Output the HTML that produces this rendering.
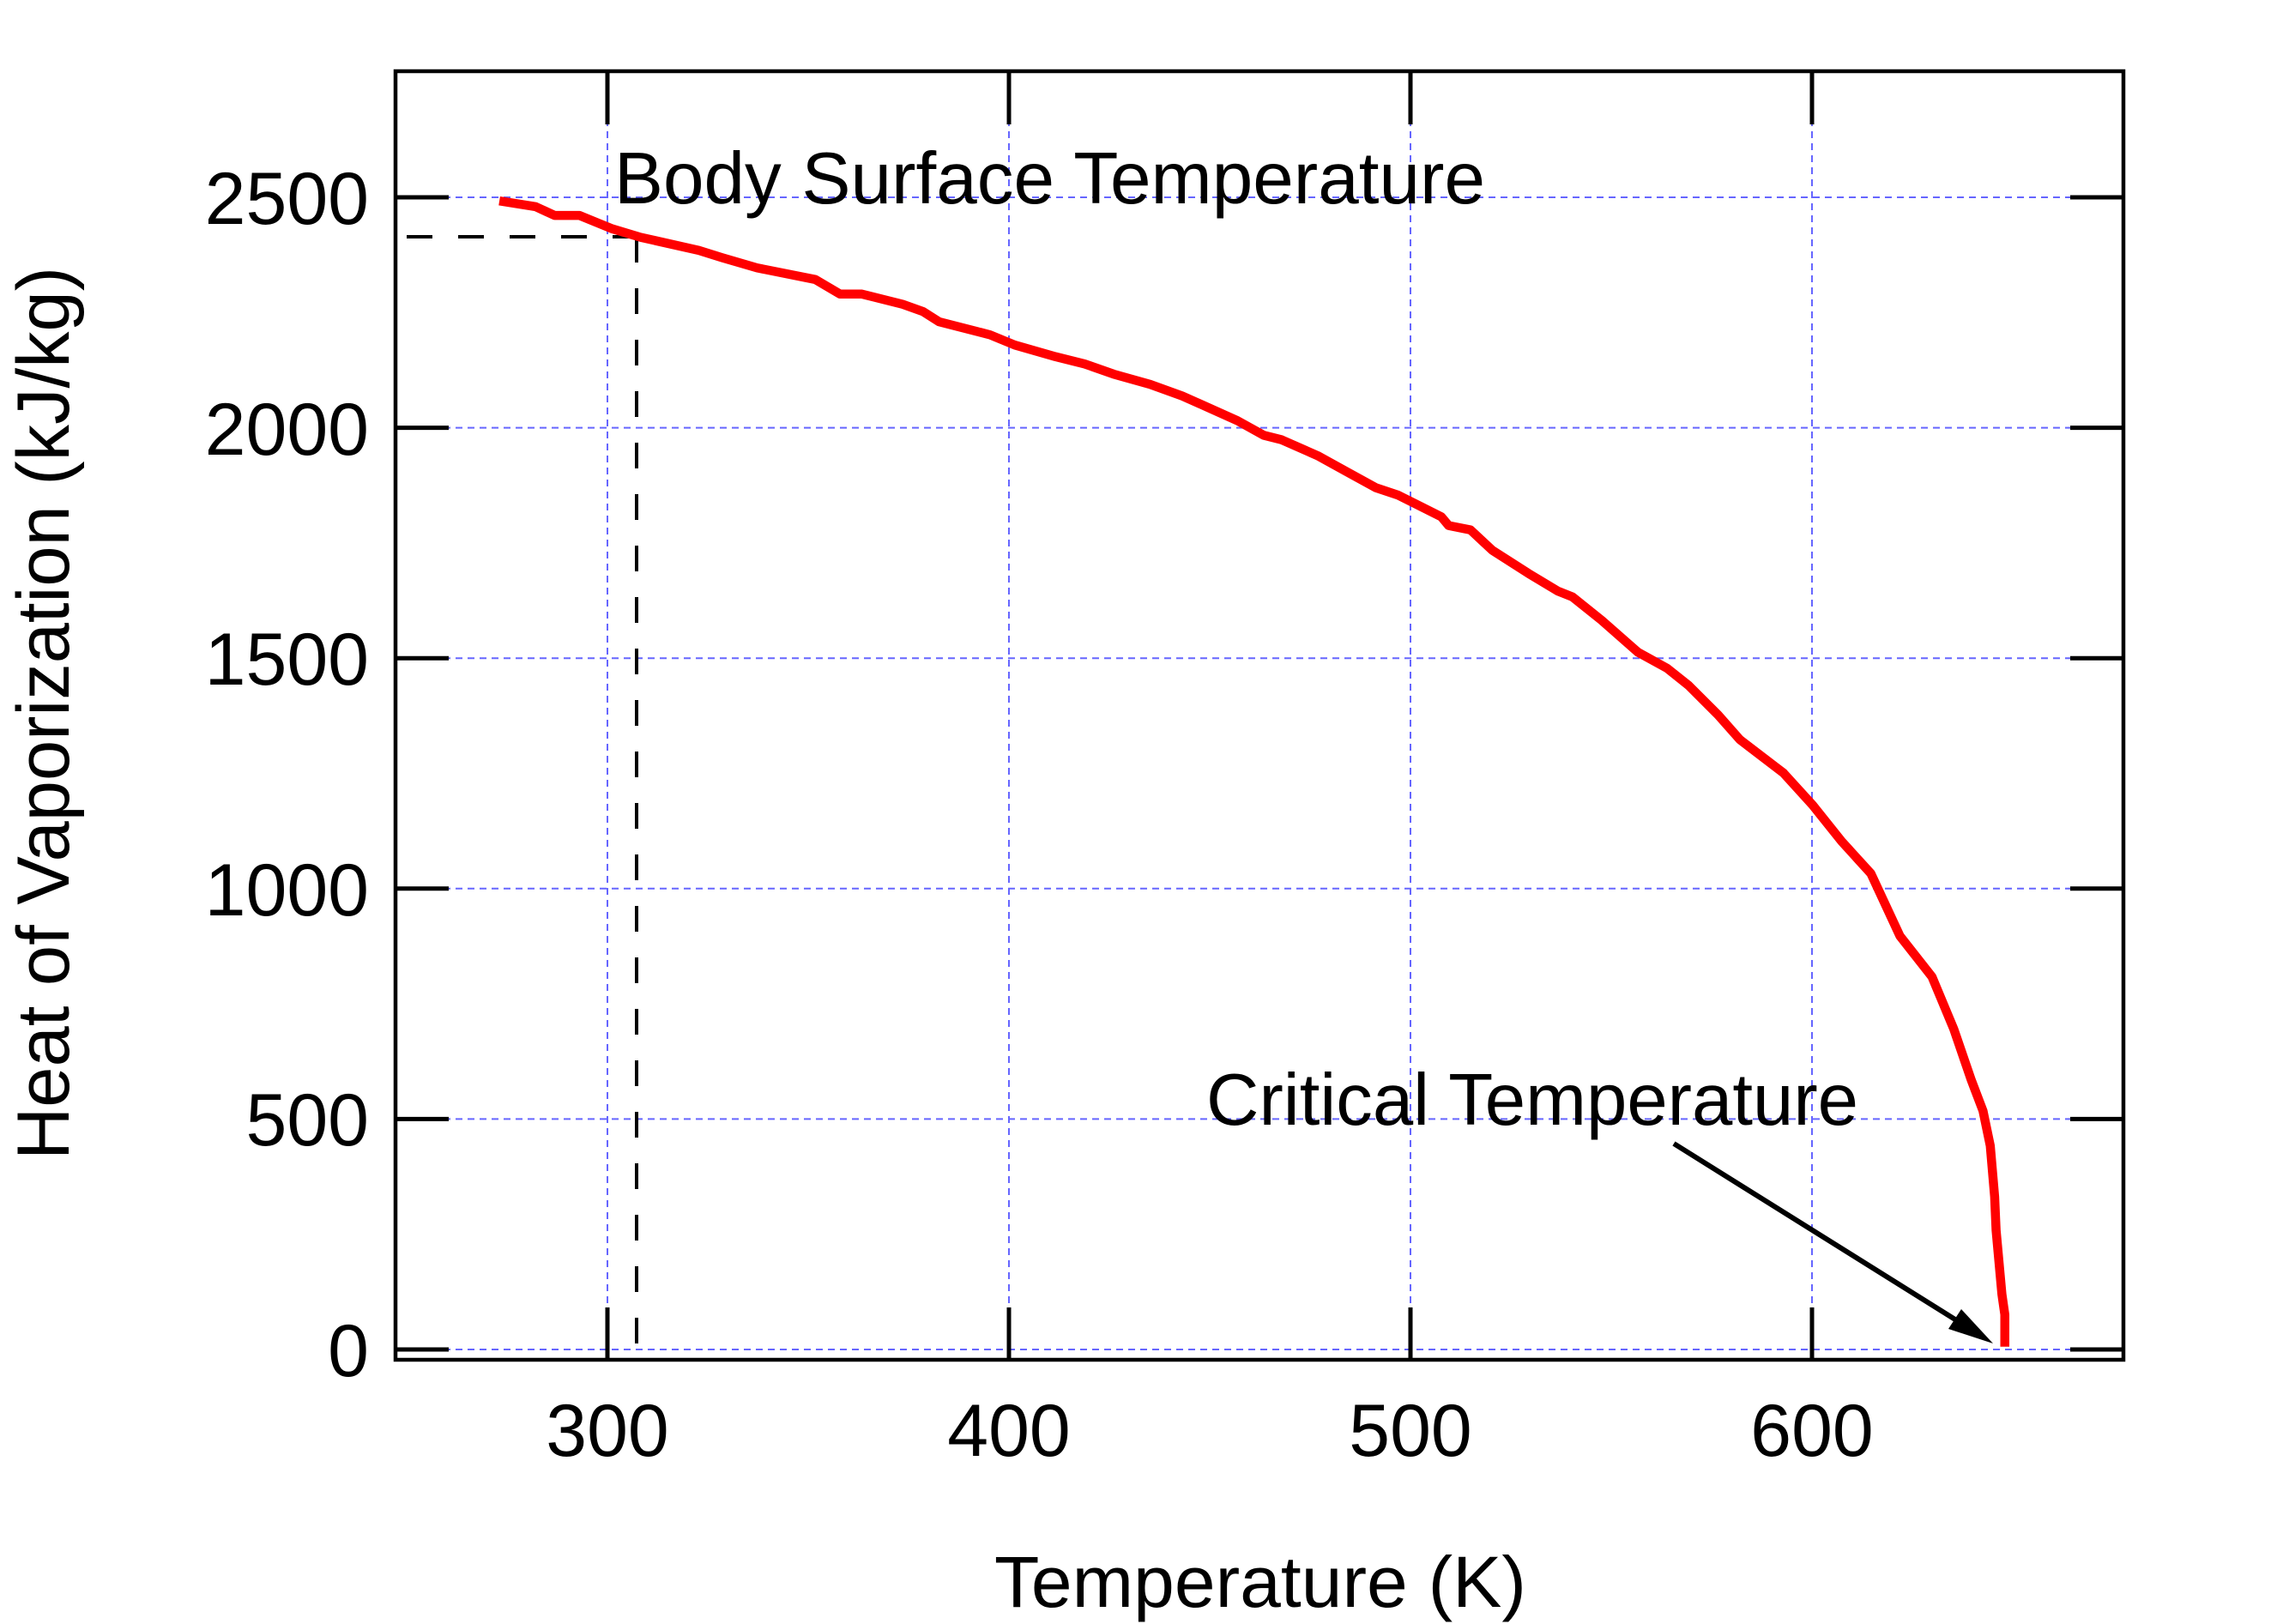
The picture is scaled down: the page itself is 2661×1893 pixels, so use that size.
<!DOCTYPE html>
<html><head><meta charset="utf-8"><style>
html,body{margin:0;padding:0;background:#fff;}
svg{display:block;}
text{font-family:"Liberation Sans",Arial,sans-serif;fill:#000;}
</style></head><body>
<svg width="2661" height="1893" viewBox="0 0 2661 1893" xmlns="http://www.w3.org/2000/svg">
<rect width="2661" height="1893" fill="#fff"/>
<!-- grid -->
<g stroke="#6666ff" stroke-width="2" stroke-dasharray="8,6">
<line x1="708" y1="83" x2="708" y2="1585"/>
<line x1="1176" y1="83" x2="1176" y2="1585"/>
<line x1="1644" y1="83" x2="1644" y2="1585"/>
<line x1="2112" y1="83" x2="2112" y2="1585"/>
<line x1="461" y1="1573" x2="2475" y2="1573"/>
<line x1="461" y1="1304.4" x2="2475" y2="1304.4"/>
<line x1="461" y1="1035.8" x2="2475" y2="1035.8"/>
<line x1="461" y1="767.2" x2="2475" y2="767.2"/>
<line x1="461" y1="498.6" x2="2475" y2="498.6"/>
<line x1="461" y1="230" x2="2475" y2="230"/>
</g>
<!-- ticks -->
<g stroke="#000" stroke-width="5">
<line x1="708" y1="83" x2="708" y2="145"/><line x1="708" y1="1585" x2="708" y2="1524"/>
<line x1="1176" y1="83" x2="1176" y2="145"/><line x1="1176" y1="1585" x2="1176" y2="1524"/>
<line x1="1644" y1="83" x2="1644" y2="145"/><line x1="1644" y1="1585" x2="1644" y2="1524"/>
<line x1="2112" y1="83" x2="2112" y2="145"/><line x1="2112" y1="1585" x2="2112" y2="1524"/>
<line x1="461" y1="1573" x2="523" y2="1573"/><line x1="2475" y1="1573" x2="2413" y2="1573"/>
<line x1="461" y1="1304.4" x2="523" y2="1304.4"/><line x1="2475" y1="1304.4" x2="2413" y2="1304.4"/>
<line x1="461" y1="1035.8" x2="523" y2="1035.8"/><line x1="2475" y1="1035.8" x2="2413" y2="1035.8"/>
<line x1="461" y1="767.2" x2="523" y2="767.2"/><line x1="2475" y1="767.2" x2="2413" y2="767.2"/>
<line x1="461" y1="498.6" x2="523" y2="498.6"/><line x1="2475" y1="498.6" x2="2413" y2="498.6"/>
<line x1="461" y1="230" x2="523" y2="230"/><line x1="2475" y1="230" x2="2413" y2="230"/>
</g>
<!-- frame -->
<rect x="461" y="83" width="2014" height="1502" fill="none" stroke="#000" stroke-width="4.5"/>
<!-- dashed reference lines -->
<g stroke="#000" stroke-width="4" stroke-dasharray="30,30" fill="none">
<line x1="474" y1="276" x2="742" y2="276"/>
<line x1="742" y1="276" x2="742" y2="1573"/>
</g>
<!-- curve -->
<g transform="scale(1.697)">
<polyline fill="none" stroke="#ff0000" stroke-width="6.2" stroke-linejoin="round" points="343,138 368,142 381,148 398,148 420,157 440,163 480,172 496,177 520,184 560,192 577,202 592,202 620,209 634,214 645,221 680,230 697,237 725,245 745,250 765,257 790,264 812,272 830,280 850,289 868,299 880,302 905,313 925,324 945,335 960,340 990,355 995,361 1010,364 1025,378 1050,394 1070,406 1080,410 1100,426 1125,448 1145,459 1160,471 1180,491 1195,508 1225,531 1245,553 1265,578 1285,600 1305,643 1327,671 1342,707 1354,742 1362,763 1367,787 1370,822 1371,845 1375,889 1377,903 1377,925"/>
</g>
<!-- arrow -->
<line x1="1951" y1="1333" x2="2290" y2="1545" stroke="#000" stroke-width="6"/>
<polygon points="2323,1566 2271,1549 2286,1526" fill="#000"/>
<!-- tick labels -->
<g font-size="86" text-anchor="end">
<text x="430" y="1604">0</text>
<text x="430" y="1335">500</text>
<text x="430" y="1067">1000</text>
<text x="430" y="798">1500</text>
<text x="430" y="530">2000</text>
<text x="430" y="261">2500</text>
</g>
<g font-size="86" text-anchor="middle">
<text x="708" y="1697">300</text>
<text x="1176" y="1697">400</text>
<text x="1644" y="1697">500</text>
<text x="2112" y="1697">600</text>
</g>
<text x="716" y="237" font-size="85" textLength="1015" lengthAdjust="spacingAndGlyphs">Body Surface Temperature</text>
<text x="1406" y="1311" font-size="85" textLength="760" lengthAdjust="spacingAndGlyphs">Critical Temperature</text>
<text x="1159" y="1873" font-size="84" textLength="620" lengthAdjust="spacingAndGlyphs">Temperature (K)</text>
<text transform="translate(80,1352) rotate(-90)" font-size="86" textLength="1041" lengthAdjust="spacingAndGlyphs">Heat of Vaporization (kJ/kg)</text>
</svg>
</body></html>
